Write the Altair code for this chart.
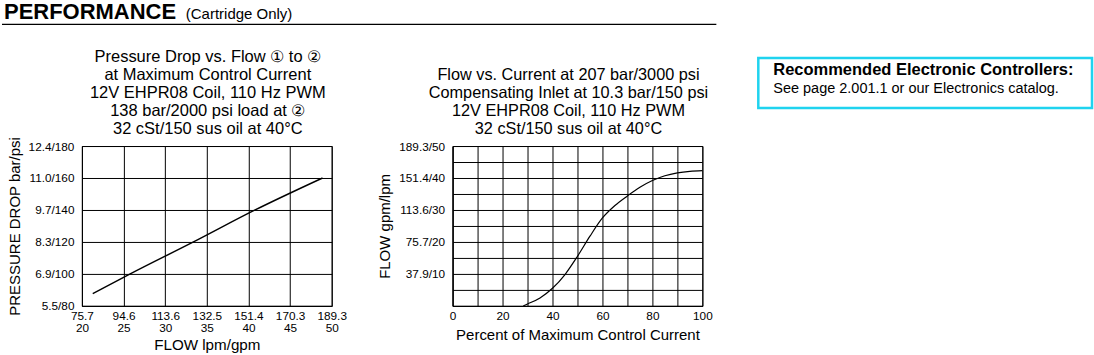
import altair as alt
import pandas as pd

FONT = "Liberation Sans"

# ---------------- data: left chart (pressure drop vs flow) ----------------
left_gpm = [21.3, 25.8, 33.4, 40.8, 48.9]
left_psi = [87.6, 100.0, 120.0, 140.0, 160.0]

left_x_ticks = [20, 25, 30, 35, 40, 45, 50]
left_x_lpm = ["75.7", "94.6", "113.6", "132.5", "151.4", "170.3", "189.3"]
left_y_ticks = [80, 100, 120, 140, 160, 180]
left_y_bar = ["5.5", "6.9", "8.3", "9.7", "11.0", "12.4"]

# ---------------- data: right chart (flow vs current) ----------------
right_pct = [28.3, 30, 35, 40, 45, 50, 55, 60, 65, 70, 75, 80, 85, 90, 95, 100]
right_gpm = [0.0, 0.6, 2.5, 5.5, 9.8, 15.5, 21.8, 27.5, 31.4, 34.4, 37.1, 39.2, 40.7, 41.6, 42.1, 42.3]

right_x_ticks = [0, 10, 20, 30, 40, 50, 60, 70, 80, 90, 100]
right_y_ticks = [0, 5, 10, 15, 20, 25, 30, 35, 40, 45, 50]
right_y_label_vals = [10, 20, 30, 40, 50]
right_y_lpm = ["37.9", "75.7", "113.6", "151.4", "189.3"]

left_title = ["Pressure Drop vs. Flow \u2460 to \u2461", "at Maximum Control Current",
              "12V EHPR08 Coil, 110 Hz PWM", "138 bar/2000 psi load at \u2461",
              "32 cSt/150 sus oil at 40\u00b0C"]
right_title = ["Flow vs. Current at 207 bar/3000 psi", "Compensating Inlet at 10.3 bar/150 psi",
               "12V EHPR08 Coil, 110 Hz PWM", "32 cSt/150 sus oil at 40\u00b0C"]

left_df = pd.DataFrame({"gpm": left_gpm, "psi": left_psi})
right_df = pd.DataFrame({"pct": right_pct, "gpm": right_gpm})


def js(arr):
    return "[" + ",".join(repr(a) if isinstance(a, str) else str(a) for a in arr) + "]"


left_x_expr = f"[{js(left_x_lpm)}[indexof({js(left_x_ticks)}, datum.value)], datum.label]"
left_y_expr = f"{js(left_y_bar)}[indexof({js(left_y_ticks)}, datum.value)] + '/' + datum.label"
right_x_expr = "datum.value % 20 == 0 ? datum.label : ''"
right_y_expr = (f"indexof({js(right_y_label_vals)}, datum.value) >= 0 ? "
                f"{js(right_y_lpm)}[indexof({js(right_y_label_vals)}, datum.value)] + '/' + datum.label : ''")

one = pd.DataFrame({"k": [0]})

# ---------------- left chart ----------------
left_line = alt.Chart(left_df).mark_line(color="black", strokeWidth=1.4, interpolate="monotone").encode(
    x=alt.X("gpm:Q", scale=alt.Scale(domain=[20, 50], nice=False, zero=False),
            axis=alt.Axis(values=left_x_ticks, labelExpr=left_x_expr, title="FLOW lpm/gpm",
                          labelPadding=5, titlePadding=3, labelLineHeight=12, titleFontSize=15.2)),
    y=alt.Y("psi:Q", scale=alt.Scale(domain=[80, 180], nice=False, zero=False),
            axis=alt.Axis(values=left_y_ticks, labelExpr=left_y_expr, title="PRESSURE DROP bar/psi",
                          labelPadding=8, titlePadding=6)),
)

anchor = alt.Chart(one).mark_rule(color="white", strokeWidth=0.1).encode(
    x=alt.value(-80), x2=alt.value(-79), y=alt.value(-145))

header_main = alt.Chart(one).mark_text(
    text="PERFORMANCE", font=FONT, fontSize=22, fontWeight="bold", align="left",
    baseline="alphabetic", color="black").encode(x=alt.value(-78), y=alt.value(-127))
header_sub = alt.Chart(one).mark_text(
    text="(Cartridge Only)", font=FONT, fontSize=15, align="left",
    baseline="alphabetic", color="black").encode(x=alt.value(104), y=alt.value(-127))
header_rule = alt.Chart(one).mark_rule(color="black", strokeWidth=1.3).encode(
    x=alt.value(-80), x2=alt.value(635), y=alt.value(-121.7))

left_title_mark = alt.Chart(one).mark_text(
    text=left_title, font=FONT, fontSize=16.5, lineHeight=18, align="center",
    baseline="alphabetic", color="black").encode(x=alt.value(126), y=alt.value(-84))

left = alt.layer(left_line, anchor, header_main, header_sub, header_rule, left_title_mark).properties(
    width=250, height=160,
)

# ---------------- right chart ----------------
right_line = alt.Chart(right_df).mark_line(color="black", strokeWidth=1.2, interpolate="monotone").encode(
    x=alt.X("pct:Q", scale=alt.Scale(domain=[0, 100], nice=False, zero=False),
            axis=alt.Axis(values=right_x_ticks, labelExpr=right_x_expr,
                          title="Percent of Maximum Control Current",
                          labelPadding=5, titlePadding=5)),
    y=alt.Y("gpm:Q", scale=alt.Scale(domain=[0, 50], nice=False, zero=False),
            axis=alt.Axis(values=right_y_ticks, labelExpr=right_y_expr, title="FLOW gpm/lpm",
                          labelPadding=8, titlePadding=6)),
)

right_title_mark = alt.Chart(one).mark_text(
    text=right_title, font=FONT, fontSize=16.3, lineHeight=18, align="center",
    baseline="alphabetic", color="black").encode(x=alt.value(116), y=alt.value(-66))

box = alt.Chart(one).mark_rect(filled=False, stroke="#1fd3ef", strokeWidth=2.5).encode(
    x=alt.value(306), x2=alt.value(640), y=alt.value(-88), y2=alt.value(-38))
box_t1 = alt.Chart(one).mark_text(
    text="Recommended Electronic Controllers:", font=FONT, fontSize=16.5, fontWeight="bold",
    align="left", baseline="alphabetic", color="black").encode(x=alt.value(321), y=alt.value(-71))
box_t2 = alt.Chart(one).mark_text(
    text="See page 2.001.1 or our Electronics catalog.", font=FONT, fontSize=14.5,
    align="left", baseline="alphabetic", color="black").encode(x=alt.value(321), y=alt.value(-53))

right = alt.layer(right_line, right_title_mark, box, box_t1, box_t2).properties(
    width=250, height=160,
)

chart = alt.hconcat(left, right, spacing=121, bounds="flush").properties(
    padding=0, background="white"
).configure_axis(
    labelFont=FONT, titleFont=FONT, labelColor="black", titleColor="black",
    labelFontSize=11.8, titleFontSize=15, titleFontWeight="normal",
    domainColor="black", domainWidth=1, gridColor="black", gridOpacity=1, gridWidth=1,
    ticks=False, labelOverlap=False, labelFlush=False, labelBound=False,
).configure_view(stroke="black", strokeWidth=1)

chart.save("out.html", embed_options={"renderer": "svg", "actions": False})
